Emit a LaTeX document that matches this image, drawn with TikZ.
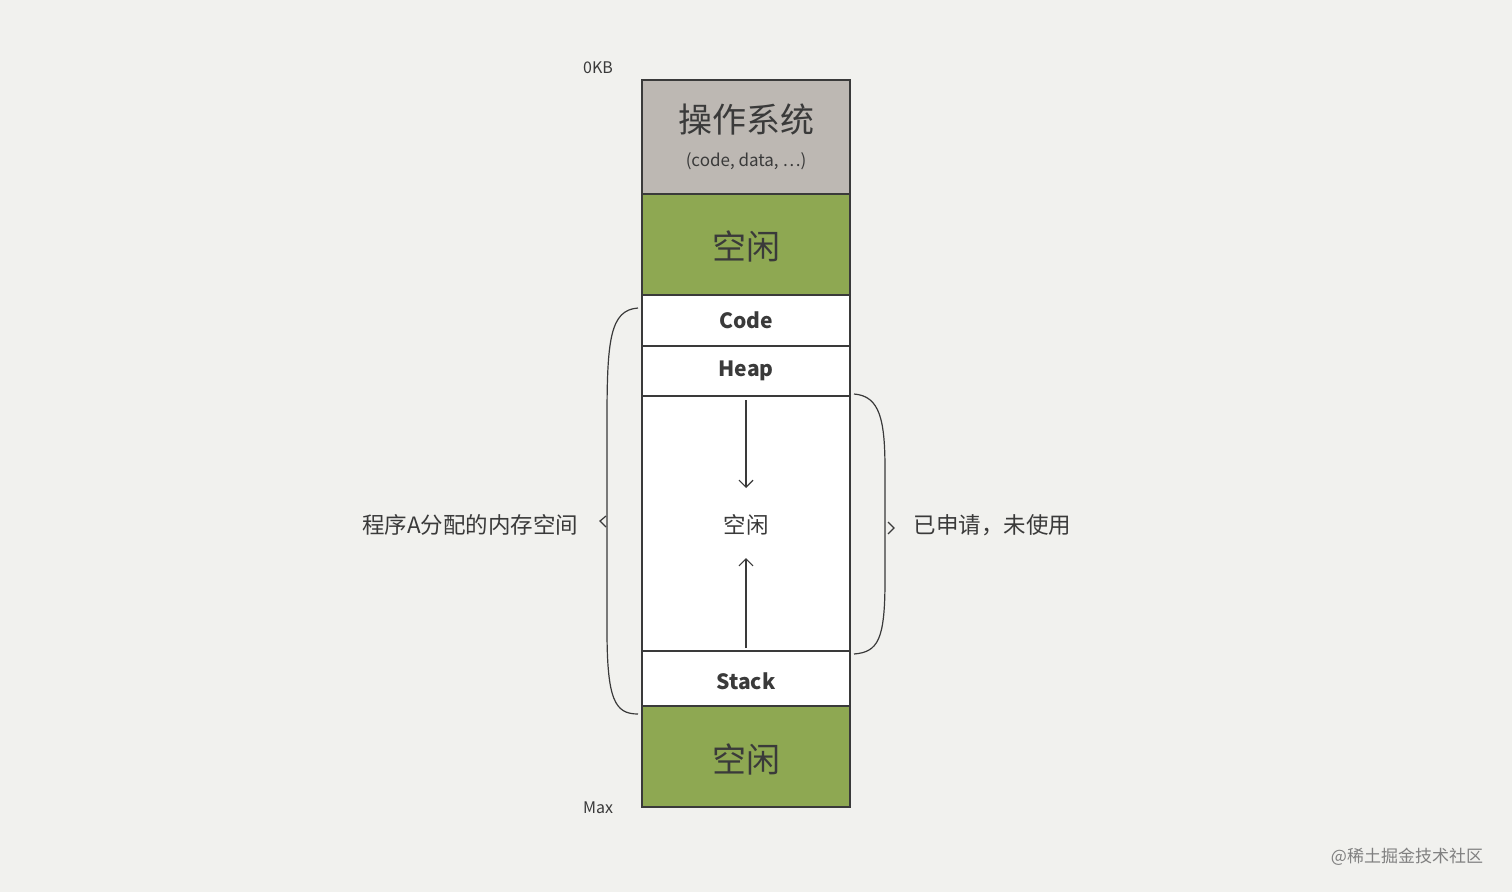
\documentclass[tikz,border=0pt]{standalone}
\usepackage{fontspec}
\setmainfont{Noto Sans CJK SC}
\usetikzlibrary{arrows.meta}
\definecolor{paper}{HTML}{F1F1EE}
\definecolor{osgray}{HTML}{BDB8B3}
\definecolor{freegreen}{HTML}{8EA852}
\definecolor{ink}{HTML}{3A3A3A}
\tikzset{
  seg/.style={draw=ink,line width=1.6pt},
  lbl/.style={text=ink,font=\fontsize{22.5}{26}\selectfont},
  big/.style={text=ink,font=\fontsize{34}{38}\selectfont},
  tag/.style={text=ink,font=\bfseries\fontsize{21}{24}\selectfont},
  brace/.style={draw=ink,line width=1.2pt},
}
\begin{document}
\begin{tikzpicture}[x=1pt,y=-1pt]
  \fill[paper] (0,0) rectangle (1512,892);
  \useasboundingbox (0,0) rectangle (1512,892);

  % memory column
  \filldraw[seg,fill=osgray] (642,80) rectangle (850,194);
  \filldraw[seg,fill=freegreen] (642,194) rectangle (850,295);
  \filldraw[seg,fill=white] (642,295) rectangle (850,346);
  \filldraw[seg,fill=white] (642,346) rectangle (850,396);
  \filldraw[seg,fill=white] (642,396) rectangle (850,651);
  \filldraw[seg,fill=white] (642,651) rectangle (850,706);
  \filldraw[seg,fill=freegreen] (642,706) rectangle (850,807);

  \node[big] (os) at (746,120) {操作系统};
  \node[text=ink,font=\fontsize{17}{20}\selectfont] (osdet) at (746,161) {(code, data, ⋯)};
  \node[big] (free1) at (746,246) {空闲};
  \node[tag] (code) at (746,320) {Code};
  \node[tag] (heap) at (746,371) {Heap};
  \node[lbl] (free2) at (746,525) {空闲};
  \node[tag] (stack) at (746,681) {Stack};
  \node[big] (free3) at (746,759) {空闲};

  \coordinate (heaptop) at (746,400);
  \coordinate (heapend) at (746,488);
  \coordinate (stacktop) at (746,648);
  \coordinate (stackend) at (746,558);
  \draw[ink,line width=1.2pt,-{Straight Barb[length=7pt,width=14pt]}] (heaptop) -- (heapend);
  \draw[ink,line width=1.2pt,-{Straight Barb[length=7pt,width=14pt]}] (stacktop) -- (stackend);

  \node[text=ink,font=\fontsize{16}{18}\selectfont] (kb) at (598,68) {0KB};
  \node[text=ink,font=\fontsize{16}{18}\selectfont] (max) at (598,808) {Max};

  % braces
  \draw[brace] (638,308) .. controls (610,310) and (607,340) .. (607,420)
    -- (607,630) .. controls (607,700) and (615,714) .. (638,714);
  \draw[brace] (606,516) -- (600,521) -- (606,527);
  \draw[brace] (854,394) .. controls (880,396) and (885,420) .. (885,470)
    -- (885,580) .. controls (885,640) and (878,652) .. (854,654);
  \draw[brace] (888,522) -- (894,528) -- (888,534);

  \node[lbl,anchor=east] (alloc) at (582,525) {程序A分配的内存空间};
  \node[lbl,anchor=west] (unused) at (910,525) {已申请，未使用};
  \node[text=gray,font=\fontsize{17}{20}\selectfont] (wm) at (1407,857) {@稀土掘金技术社区};
\end{tikzpicture}
\end{document}
